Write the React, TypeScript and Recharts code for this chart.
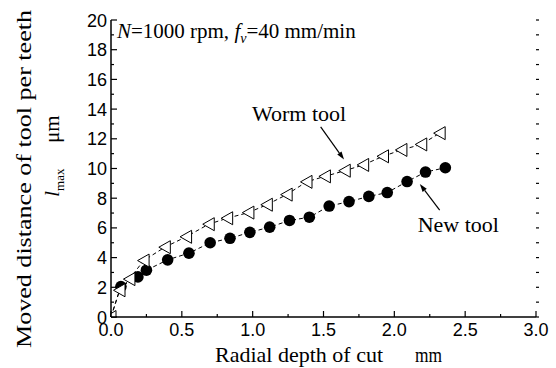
import React from 'react';
import { ScatterChart, Scatter, XAxis, YAxis, ReferenceLine, ReferenceDot } from 'recharts';

// Radial depth of cut (mm) and maximum moved distance l_max (µm) per tool
const depthNew = [0, 0.07, 0.19, 0.25, 0.4, 0.55, 0.7, 0.84, 0.98, 1.12, 1.26, 1.4, 1.54, 1.68, 1.82, 1.95, 2.09, 2.22, 2.36];
const lmaxNew = [0, 2.05, 2.7, 3.15, 3.85, 4.3, 5.0, 5.3, 5.7, 6.05, 6.5, 6.72, 7.47, 7.77, 8.12, 8.38, 9.12, 9.76, 10.05];
const depthWorm = [0, 0.06, 0.13, 0.23, 0.38, 0.53, 0.69, 0.82, 0.97, 1.1, 1.24, 1.38, 1.51, 1.65, 1.78, 1.92, 2.05, 2.19, 2.32];
const lmaxWorm = [0, 1.8, 2.55, 3.8, 4.7, 5.4, 6.25, 6.65, 7.03, 7.56, 8.24, 9.1, 9.47, 9.85, 10.24, 10.82, 11.25, 11.62, 12.38];

// Axis ticks
const xMajor = [0, 0.5, 1, 1.5, 2, 2.5, 3];
const xTickLabels = ['0.0', '0.5', '1.0', '1.5', '2.0', '2.5', '3.0'];
const xMinor = [0.25, 0.75, 1.25, 1.75, 2.25, 2.75];
const yMajor = [0, 2, 4, 6, 8, 10, 12, 14, 16, 18, 20];
const yTickLabels = ['0', '2', '4', '6', '8', '10', '12', '14', '16', '18', '20'];
const yMinor = [1, 3, 5, 7, 9, 11, 13, 15, 17, 19];

// Annotation anchors in data units
const conditionAt = { x: 0.042, y: 18.8 };
const wormLabelAt = { x: 0.995, y: 13.2 };
const newLabelAt = { x: 2.165, y: 5.75 };
const wormArrow = [{ x: 1.48, y: 12.8 }, { x: 1.645, y: 10.6 }];
const newArrow = [{ x: 2.32, y: 7.2 }, { x: 2.18, y: 8.95 }];

const newTool = depthNew.map((d, i) => ({ d, l: lmaxNew[i] }));
const wormTool = depthWorm.map((d, i) => ({ d, l: lmaxWorm[i] }));
const xTicks = [...xMajor, ...xMinor].sort((a, b) => a - b);
const yTicks = [...yMajor, ...yMinor].sort((a, b) => a - b);

const W = 556;
const H = 368;
const M = { top: 20, right: 20, bottom: 0, left: 0 };
const Y_AXIS_W = 111;
const X_AXIS_H = 51;
const PLOT_LEFT = M.left + Y_AXIS_W;
const PLOT_RIGHT = W - M.right;
const PLOT_BOTTOM = H - M.bottom - X_AXIS_H;

const serif: React.CSSProperties = { fontFamily: "'Liberation Serif', 'Times New Roman', Times, serif" };
const sans: React.CSSProperties = { fontFamily: "'Liberation Sans', Arial, Helvetica, sans-serif" };

const XTick = (props: any) => {
  const { x, payload } = props;
  const idx = xMajor.indexOf(payload.value);
  const len = idx >= 0 ? 6 : 3;
  return (
    <g>
      <line x1={x} x2={x} y1={PLOT_BOTTOM} y2={PLOT_BOTTOM - len} stroke="#000" strokeWidth={1.2} />
      {idx >= 0 && (
        <text x={x} y={PLOT_BOTTOM + 19} textAnchor="middle" style={sans} fontSize={18} fill="#000">
          {xTickLabels[idx]}
        </text>
      )}
    </g>
  );
};

const YTick = (props: any) => {
  const { y, payload } = props;
  const idx = yMajor.indexOf(payload.value);
  const len = idx >= 0 ? 6 : 3;
  return (
    <g>
      <line x1={PLOT_LEFT} x2={PLOT_LEFT + len} y1={y} y2={y} stroke="#000" strokeWidth={1.2} />
      <line x1={PLOT_RIGHT} x2={PLOT_RIGHT + 3} y1={y} y2={y} stroke="#000" strokeWidth={1.2} />
      {idx >= 0 && (
        <text x={PLOT_LEFT - 4} y={y + 6.5} textAnchor="end" style={sans} fontSize={18} fill="#000">
          {yTickLabels[idx]}
        </text>
      )}
    </g>
  );
};

const CircleMark = (props: any) => {
  const { cx, cy, payload } = props;
  if (payload && payload.d === 0) return <g />;
  return <circle cx={cx} cy={cy} r={5.8} fill="#000" />;
};

const TriangleMark = (props: any) => {
  const { cx, cy, payload } = props;
  if (payload && payload.d === 0) {
    // only the part inside the frame is visible at the origin
    return (
      <polygon
        points={`${cx},${cy} ${cx},${cy - 3.5} ${cx + 5},${cy - 6.5} ${cx + 5},${cy}`}
        fill="#fff"
        stroke="#000"
        strokeWidth={1}
      />
    );
  }
  return (
    <polygon
      points={`${cx - 6},${cy} ${cx + 5.5},${cy - 6.5} ${cx + 5.5},${cy + 6.5}`}
      fill="#fff"
      stroke="#000"
      strokeWidth={1}
    />
  );
};

const Arrow = (props: any) => {
  const { x1, y1, x2, y2 } = props;
  const a = Math.atan2(y2 - y1, x2 - x1);
  const L = 8;
  const w = 2.6;
  const bx = x2 - L * Math.cos(a);
  const by = y2 - L * Math.sin(a);
  const px = -Math.sin(a) * w;
  const py = Math.cos(a) * w;
  return (
    <g>
      <line x1={x1} y1={y1} x2={bx} y2={by} stroke="#000" strokeWidth={1.2} />
      <polygon points={`${x2},${y2} ${bx + px},${by + py} ${bx - px},${by - py}`} fill="#000" />
    </g>
  );
};

const YLabel = () => (
  <g fill="#000" style={serif}>
    <text
      transform="translate(31,348) rotate(-90)"
      fontSize={22}
      textLength={338}
      lengthAdjust="spacingAndGlyphs"
    >
      Moved distance of tool per teeth
    </text>
    <text transform="translate(59,197) rotate(-90)" fontSize={22}>
      <tspan fontStyle="italic">l</tspan>
      <tspan fontSize={13} dy={5}>max</tspan>
    </text>
    <text transform="translate(59,143) rotate(-90)" fontSize={21}>
      μm
    </text>
  </g>
);

const XLabel = () => (
  <g fill="#000" style={serif}>
    <text x={215} y={362} fontSize={22}>
      Radial depth of cut
    </text>
    <text x={415} y={362} fontSize={22} textLength={27} lengthAdjust="spacingAndGlyphs">
      mm
    </text>
  </g>
);

export default function App() {
  return (
    <div style={{ position: 'absolute', left: 0, top: 0, width: W, height: H, background: '#fff' }}>
      <ScatterChart width={W} height={H} margin={M}>
        <XAxis
          dataKey="d"
          type="number"
          domain={[0, 3]}
          ticks={xTicks}
          interval={0}
          height={X_AXIS_H}
          tickLine={false}
          axisLine={{ stroke: '#000', strokeWidth: 1.5 }}
          tick={XTick}
          label={{ content: XLabel }}
        />
        <YAxis
          dataKey="l"
          type="number"
          domain={[0, 20]}
          ticks={yTicks}
          interval={0}
          width={Y_AXIS_W}
          tickLine={false}
          axisLine={{ stroke: '#000', strokeWidth: 1.5 }}
          tick={YTick}
          label={{ content: YLabel }}
        />
        <XAxis
          xAxisId="top"
          orientation="top"
          type="number"
          domain={[0, 3]}
          height={0}
          tick={false}
          tickLine={false}
          axisLine={{ stroke: '#000', strokeWidth: 1.5 }}
        />
        <YAxis
          yAxisId="right"
          orientation="right"
          type="number"
          domain={[0, 20]}
          width={0}
          tick={false}
          tickLine={false}
          axisLine={{ stroke: '#000', strokeWidth: 1.5 }}
        />
        <Scatter
          name="New tool"
          data={newTool}
          isAnimationActive={false}
          line={{ stroke: '#000', strokeWidth: 1, strokeDasharray: '4 3' }}
          lineType="joint"
          shape={CircleMark}
        />
        <Scatter
          name="Worm tool"
          data={wormTool}
          isAnimationActive={false}
          line={{ stroke: '#000', strokeWidth: 1, strokeDasharray: '4 3' }}
          lineType="joint"
          shape={TriangleMark}
        />
        <ReferenceLine segment={wormArrow} shape={Arrow} />
        <ReferenceLine segment={newArrow} shape={Arrow} />
        <ReferenceDot
          x={conditionAt.x}
          y={conditionAt.y}
          r={0}
          shape={(p: any) => (
            <text x={p.cx} y={p.cy} style={serif} fontSize={21} fill="#000">
              <tspan fontStyle="italic">N</tspan>
              <tspan>=1000 rpm, </tspan>
              <tspan fontStyle="italic">f</tspan>
              <tspan fontStyle="italic" fontSize={14} dy={5}>v</tspan>
              <tspan dy={-5}>=40 mm/min</tspan>
            </text>
          )}
        />
        <ReferenceDot
          x={wormLabelAt.x}
          y={wormLabelAt.y}
          r={0}
          shape={(p: any) => (
            <text x={p.cx} y={p.cy} style={serif} fontSize={22} fill="#000">
              Worm tool
            </text>
          )}
        />
        <ReferenceDot
          x={newLabelAt.x}
          y={newLabelAt.y}
          r={0}
          shape={(p: any) => (
            <text x={p.cx} y={p.cy} style={serif} fontSize={22} fill="#000">
              New tool
            </text>
          )}
        />
      </ScatterChart>
    </div>
  );
}
